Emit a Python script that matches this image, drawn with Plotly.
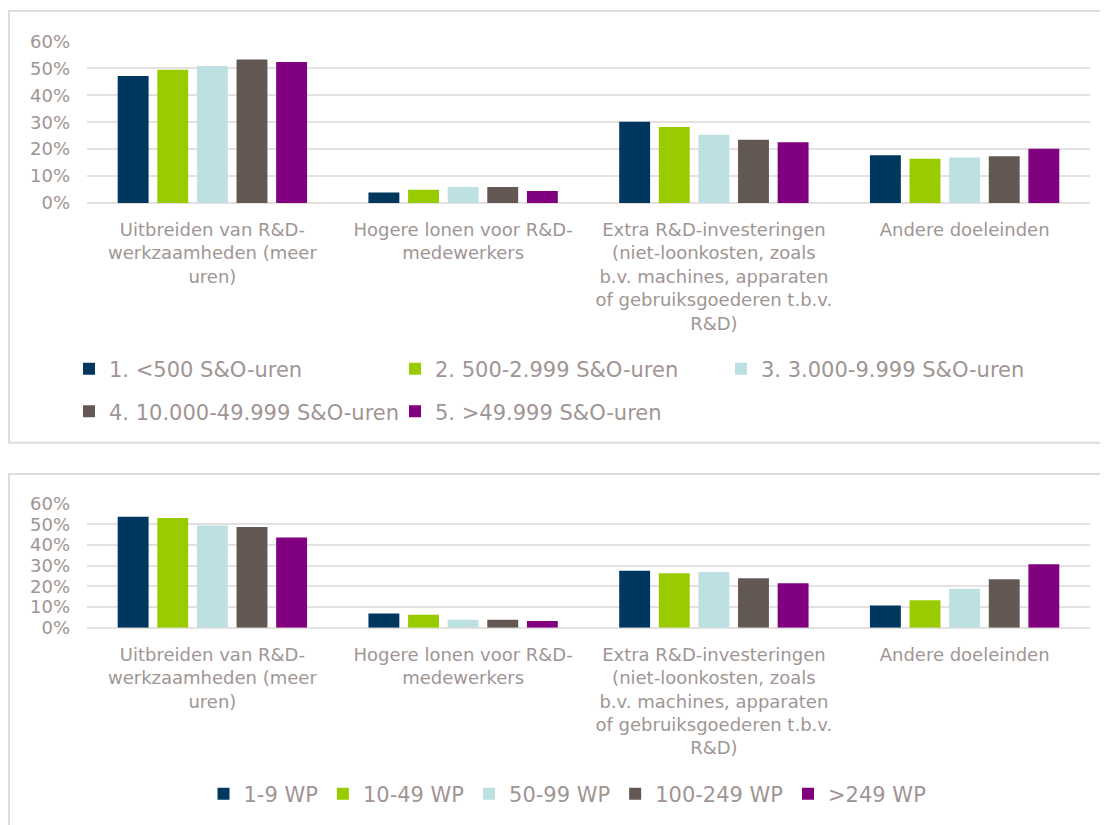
import plotly.graph_objects as go

categories = [
    "Uitbreiden van R&D-<br>werkzaamheden (meer<br>uren)",
    "Hogere lonen voor R&D-<br>medewerkers",
    "Extra R&D-investeringen<br>(niet-loonkosten, zoals<br>b.v. machines, apparaten<br>of gebruiksgoederen t.b.v.<br>R&D)",
    "Andere doeleinden",
]

top_series = ["1. <500 S&O-uren", "2. 500-2.999 S&O-uren", "3. 3.000-9.999 S&O-uren",
              "4. 10.000-49.999 S&O-uren", "5. >49.999 S&O-uren"]
top_values = [
    [0.472, 0.039, 0.302, 0.177],
    [0.495, 0.049, 0.282, 0.164],
    [0.509, 0.059, 0.254, 0.169],
    [0.533, 0.059, 0.235, 0.174],
    [0.524, 0.045, 0.226, 0.202],
]

bottom_series = ["1-9 WP", "10-49 WP", "50-99 WP", "100-249 WP", ">249 WP"]
bottom_values = [
    [0.537, 0.069, 0.276, 0.108],
    [0.531, 0.063, 0.263, 0.133],
    [0.494, 0.039, 0.269, 0.189],
    [0.487, 0.039, 0.239, 0.234],
    [0.437, 0.032, 0.215, 0.307],
]

colors = ["#00375f", "#99cc00", "#bde0e3", "#635854", "#800080"]

TEXT = "#a09593"
GRID = "#e6e1e1"
FONT = "DejaVu Sans"
W, H = 1108, 825
OFF = 8  # page body margin


def px(x):
    return (x - OFF) / W


def py(y):
    return 1 - (y - OFF) / H


fig = go.Figure()

for i, (name, vals) in enumerate(zip(top_series, top_values)):
    fig.add_trace(go.Bar(
        x=categories, y=vals, name=name, marker_color=colors[i],
        marker_line_width=0, xaxis="x", yaxis="y",
        legend="legend" if i < 3 else "legend2",
    ))

for i, (name, vals) in enumerate(zip(bottom_series, bottom_values)):
    fig.add_trace(go.Bar(
        x=categories, y=vals, name=name, marker_color=colors[i],
        marker_line_width=0, xaxis="x2", yaxis="y2",
        legend="legend3",
    ))

xdom = [px(87), px(1090)]


def yax(dom):
    return dict(
        domain=dom, range=[0, 0.6], dtick=0.1, tickformat=".0%",
        showgrid=True, gridcolor=GRID, gridwidth=2,
        zeroline=True, zerolinecolor=GRID, zerolinewidth=2,
        showline=False, ticks="", ticklabelstandoff=16,
        tickfont=dict(family=FONT, size=18, color=TEXT), fixedrange=True,
    )


def xax(anchor):
    return dict(
        domain=xdom, anchor=anchor, showgrid=False, showline=False,
        ticks="", ticklabelstandoff=14,
        tickfont=dict(family=FONT, size=18, color=TEXT), fixedrange=True,
    )


legfont = dict(family=FONT, size=21, color=TEXT)

fig.update_layout(
    width=W, height=H,
    margin=dict(l=0, r=0, t=0, b=0, autoexpand=False),
    paper_bgcolor="white", plot_bgcolor="white",
    barmode="group", bargap=0.21, bargroupgap=0.22,
    xaxis=xax("y"),
    yaxis=yax([py(203), py(41.5)]),
    xaxis2=xax("y2"),
    yaxis2=yax([py(627.7), py(503.7)]),
    legend=dict(orientation="h", x=px(69), xanchor="left", y=py(369), yanchor="middle",
                entrywidth=281, entrywidthmode="pixels", font=legfont, bgcolor="rgba(0,0,0,0)"),
    legend2=dict(orientation="h", x=px(69), xanchor="left", y=py(411.7), yanchor="middle",
                 entrywidth=281, entrywidthmode="pixels", font=legfont, bgcolor="rgba(0,0,0,0)"),
    legend3=dict(orientation="h", x=px(567.5), xanchor="center", y=py(794), yanchor="middle",
                 font=legfont, bgcolor="rgba(0,0,0,0)"),
    shapes=[
        dict(type="rect", xref="paper", yref="paper", x0=1 / W, x1=1.05,
             y0=py(442.7), y1=py(11), line=dict(color="#e0dcdb", width=2), layer="below"),
        dict(type="rect", xref="paper", yref="paper", x0=1 / W, x1=1.05,
             y0=-0.05, y1=py(474), line=dict(color="#e0dcdb", width=2), layer="below"),
    ],
    showlegend=True,
)

fig.write_html("out.html")
